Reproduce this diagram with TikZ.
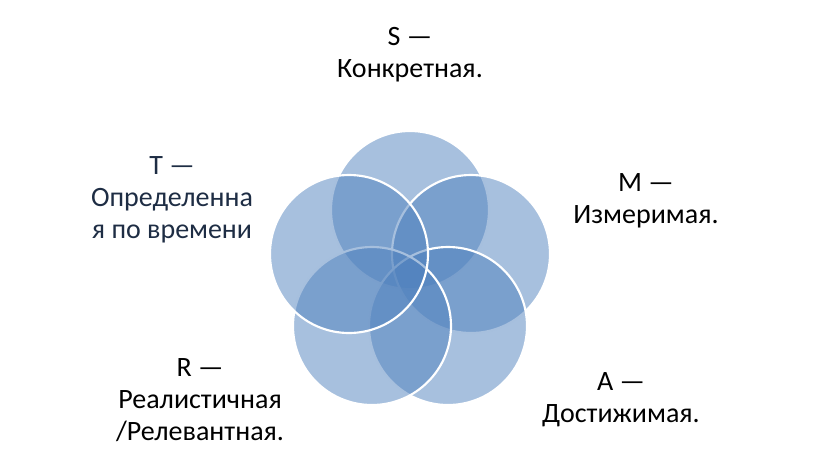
\documentclass[tikz,border=0pt]{standalone}
\usepackage{fontspec}
\setmainfont{Carlito}
\definecolor{vennblue}{HTML}{4F81BD}
\definecolor{navytext}{HTML}{1E2D44}
\tikzset{
  venn/.style={circle, draw=white, line width=1.6pt, fill=vennblue, fill opacity=0.5, draw opacity=1, minimum size=118.5pt, inner sep=0pt, outer sep=0pt},
  lbl/.style={align=center, font=\fontsize{21}{24}\selectfont, inner sep=0pt, text=black}
}
\begin{document}
\begin{tikzpicture}[x=0.75pt,y=-0.75pt]
\useasboundingbox (0,0) rectangle (822,455);
\node[venn] (cs) at (410,210) {};
\node[venn] (cm) at (471,254) {};
\node[venn] (ca) at (448,326) {};
\node[venn] (cr) at (372,326) {};
\node[venn] (ct) at (349,254) {};
\node[lbl] (ls) at (410,55) {S —\\Конкретная.};
\node[lbl] (lm) at (646,201) {M —\\Измеримая.};
\node[lbl] (la) at (621,400) {A —\\Достижимая.};
\node[lbl] (lr) at (200,400) {R —\\Реалистичная\\/Релевантная.};
\node[lbl, text=navytext] (lt) at (172,200) {T —\\Определенна\\я по времени};
\end{tikzpicture}
\end{document}
